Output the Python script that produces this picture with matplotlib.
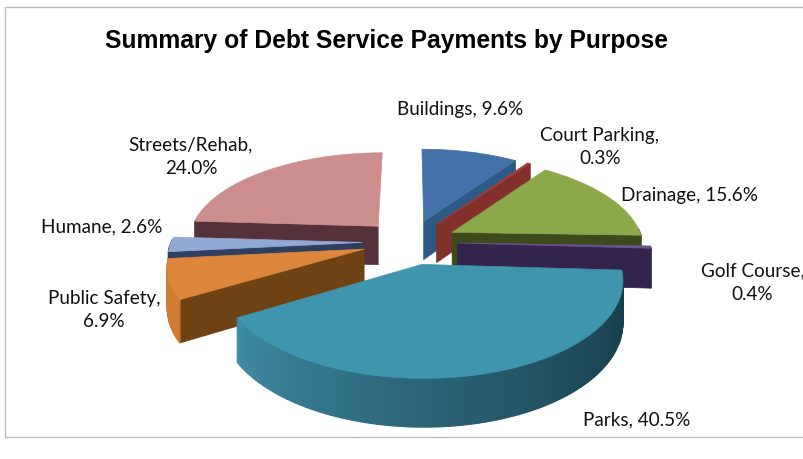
import numpy as np
import matplotlib
matplotlib.use("Agg")
import matplotlib.pyplot as plt
from matplotlib.patches import Polygon, Rectangle
from matplotlib.colors import to_rgb

TITLE = "Summary of Debt Service Payments by Purpose"
categories = ["Buildings", "Court Parking", "Drainage", "Golf Course", "Parks",
              "Public Safety", "Humane", "Streets/Rehab"]
values = [9.6, 0.3, 15.6, 0.4, 40.5, 6.9, 2.6, 24.0]
label_texts = ["Buildings, 9.6%", "Court Parking,\n0.3%", "Drainage, 15.6%", "Golf Course,\n0.4%",
               "Parks, 40.5%", "Public Safety,\n6.9%", "Humane, 2.6%", "Streets/Rehab,\n24.0%"]
label_xy = [(460, 110), (600, 147), (690, 196), (752.5, 283),
            (637, 420), (104, 310), (102, 227), (191, 157)]
top_colors = ["#4272A8", "#A63C38", "#8BA84B", "#6C5490", "#3F94AE", "#DD863C", "#92A9D6", "#CC8E8C"]
side_colors = ["#2C5A84", "#82302C", "#3C4A1C", "#33244C", "#163C48", "#6E4213", "#2E3F60", "#55323A"]
rim_colors = ["#2C5A84", "#8A322E", "#3C4A1C", "#33244C", "#3F8CA5", "#D07C30", "#2E3F60", "#55323A"]
draw_order = [7, 0, 1, 2, 6, 3, 5, 4]

CX, CY, RX, RY, K, DEPTH, EXPLODE = 410.0, 243.0, 191.0, 89.0, 0.152, 39.5, 0.25


def project(u, v, drop=0.0):
    s = 1.0 / (1.0 + K * v)
    return CX + RX * u * s, CY - RY * v * s + drop * DEPTH * s


fig = plt.figure(figsize=(8.04, 4.6), dpi=100)
ax = fig.add_axes([0, 0, 1, 1])
ax.set_xlim(0, 804)
ax.set_ylim(460, 0)
ax.axis("off")
ax.add_patch(Rectangle((5.5, 7.5), 820, 430, fc="white", ec="#BDBDBD", lw=1))

total = sum(values)
edges = np.concatenate([[0], np.cumsum(values)]) / total * 360.0

for i in draw_order:
    z = 2 + draw_order.index(i)
    t0, t1 = np.radians(edges[i]), np.radians(edges[i + 1])
    mid = (t0 + t1) / 2
    ax0, ay0 = EXPLODE * np.sin(mid), EXPLODE * np.cos(mid)
    ts = np.linspace(t0, t1, max(3, int(np.degrees(t1 - t0) / 1.5) + 2))
    us, vs = ax0 + np.sin(ts), ay0 + np.cos(ts)

    # radial faces turned towards the viewer
    for t, visible in ((t0, np.sin(t0) < 0), (t1, np.sin(t1) > 0)):
        if visible:
            u, v = ax0 + np.sin(t), ay0 + np.cos(t)
            pts = [project(ax0, ay0), project(u, v), project(u, v, 1), project(ax0, ay0, 1)]
            ax.add_patch(Polygon(pts, fc=side_colors[i], ec=side_colors[i], lw=0.5, zorder=z))

    # outer rim (front half only); the largest slice is shaded from right to left
    c0, c1 = np.array(to_rgb(rim_colors[i])), np.array(to_rgb(side_colors[i]))
    for j in range(len(ts) - 1):
        if np.cos(ts[j]) < 0.03 or np.cos(ts[j + 1]) < 0.03:
            f = (ts[j] - t0) / (t1 - t0)
            col = c1 + (c0 - c1) * f ** 1.3 if i == 4 else c0
            pts = [project(us[j], vs[j]), project(us[j + 1], vs[j + 1]),
                   project(us[j + 1], vs[j + 1], 1), project(us[j], vs[j], 1)]
            ax.add_patch(Polygon(pts, fc=col, ec=col, lw=0.9, zorder=z))

    # top surface
    pts = [project(ax0, ay0)] + [project(a, b) for a, b in zip(us, vs)]
    ax.add_patch(Polygon(pts, fc=top_colors[i], ec=top_colors[i], lw=0.5, zorder=z + 0.5))

ax.text(387, 41, TITLE, ha="center", va="center", fontsize=17.7, fontweight="bold",
        family="Liberation Sans", color="black")
for txt, (x, y) in zip(label_texts, label_xy):
    ax.text(x, y, txt, ha="center", va="center", fontsize=13.6, family="Lato",
            color="#111111", linespacing=1.45, zorder=30)

fig.savefig("out.png", dpi=100)
